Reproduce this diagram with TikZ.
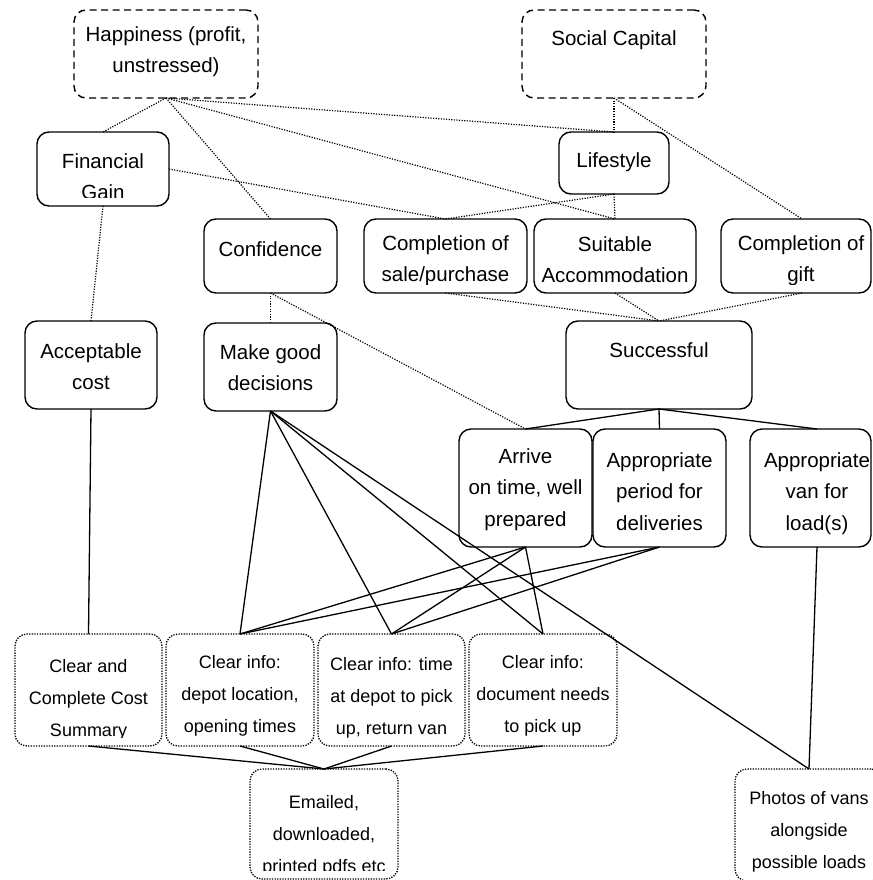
\documentclass[tikz,border=0pt]{standalone}
\usepackage{fontspec}
\setmainfont{Liberation Sans}
\newcommand\bigf{\fontsize{20.5}{31.5}\selectfont}
\newcommand\smallf{\fontsize{18}{32}\selectfont}
\tikzset{
  boxbase/.style={rounded corners=12pt, line width=1.4pt, inner sep=0pt, outer sep=0pt},
  solidbox/.style={boxbase, draw},
  dashbox/.style={boxbase, draw, dash pattern=on 7pt off 4.5pt},
  dotbox/.style={boxbase, draw, line width=1.3pt, dash pattern=on 1.3pt off 1.3pt},
  wh/.style 2 args={minimum width=#1pt, minimum height=#2pt},
  lbl/.style n args={4}{path picture={
    \clip ([yshift=9pt]path picture bounding box.south west) rectangle (path picture bounding box.north east);
    \node[anchor=north, inner sep=0pt, minimum width=0pt, minimum height=0pt, align=center, font=#3, xshift=#2pt]
      at ([yshift={(20-#1)*1pt}]path picture bounding box.north) {\rule{0pt}{20pt}#4};}},
  T/.style n args={3}{lbl={#1}{#2}{\bigf}{#3}},
  S/.style n args={3}{lbl={#1}{#2}{\smallf}{#3}},
  link/.style={line width=1.3pt},
  weak/.style={line width=1.2pt, dash pattern=on 1.2pt off 1.4pt},
}
\begin{document}
\begin{tikzpicture}[x=1pt,y=-1pt]
\fill[white] (0,0) rectangle (872,880);
\useasboundingbox (0,0) rectangle (872,880);
% top
\node[dashbox, wh={184}{88}, T={31.5}{0}{Happiness (profit,\\unstressed)}] (hap) at (166,54) {};
\node[dashbox, wh={184}{88}, T={36}{0}{Social Capital}] (soc) at (614,54) {};
\node[solidbox, wh={132}{74}, T={36}{0}{Financial\\Gain}] (fg) at (103,169) {};
\node[solidbox, wh={110}{62}, T={35}{0}{Lifestyle}] (life) at (614,163) {};
\node[solidbox, wh={133}{74}, T={37}{0}{Confidence}] (conf) at (270.5,256) {};
\node[solidbox, wh={163}{74}, T={31}{0}{Completion of\\sale/purchase}] (sale) at (445.5,256) {};
\node[solidbox, wh={162}{74}, T={32}{0}{Suitable\\Accommodation}] (acc) at (615,256) {};
\node[solidbox, wh={150}{74}, T={31}{5}{Completion of\\gift}] (gift) at (796,256) {};
\node[solidbox, wh={132}{88}, T={37}{0}{Acceptable\\cost}] (cost) at (91,365) {};
\node[solidbox, wh={133}{88}, T={36}{0}{Make good\\decisions}] (mgd) at (270.5,367) {};
\node[solidbox, wh={186}{88}, T={36}{0}{Successful}] (succ) at (659,365) {};
\node[solidbox, wh={133}{118}, T={34}{0}{Arrive\\on time, well\\prepared}] (arr) at (525.5,488) {};
\node[solidbox, wh={133}{118}, T={38}{0}{Appropriate\\period for\\deliveries}] (per) at (659.5,488) {};
\node[solidbox, wh={121}{118}, T={38}{6.5}{Appropriate\\van for\\load(s)}] (van) at (810.5,488) {};
% bottom
\node[dotbox, wh={147}{112}, S={38}{0}{Clear and\\Complete Cost\\Summary}] (ccs) at (88.5,690) {};
\node[dotbox, wh={148}{112}, S={34}{0}{Clear info:\\depot location,\\opening times}] (dep) at (240,690) {};
\node[dotbox, wh={147}{112}, S={36}{0}{Clear info: time\\at depot to pick\\up, return van}] (tim) at (391.5,690) {};
\node[dotbox, wh={148}{112}, S={34}{0}{Clear info:\\document needs\\to pick up}] (doc) at (543,690) {};
\node[dotbox, wh={148}{110}, S={39}{0}{Emailed,\\downloaded,\\printed pdfs etc}] (eml) at (324,824) {};
\node[dotbox, wh={148}{112}, S={35}{0}{Photos of vans\\alongside\\possible loads}] (pho) at (809,825) {};
% dotted links
\draw[weak] (hap.south) -- (fg.north);
\draw[weak] (hap.south) -- (conf.north);
\draw[weak] (hap.south) -- (life.north);
\draw[weak] (hap.south) -- (acc.north);
\draw[weak] (fg.east) -- (sale.north);
\draw[weak] (fg.south) -- (cost.north);
\draw[weak] (soc.south) -- (life.north);
\draw[weak] (soc.south) -- ([xshift=6pt]gift.north);
\draw[weak] (life.south) -- (sale.north);
\draw[weak] (life.south) -- (acc.north);
\draw[weak] (conf.south) -- (mgd.north);
\draw[weak] (conf.south) -- (arr.north);
\draw[weak] (sale.south) -- (succ.north);
\draw[weak] (acc.south) -- (succ.north);
\draw[weak] ([xshift=6pt]gift.south) -- (succ.north);
% solid links
\draw[link] (succ.south) -- (arr.north);
\draw[link] (succ.south) -- (per.north);
\draw[link] (succ.south) -- ([xshift=6.5pt]van.north);
\draw[link] (cost.south) -- (ccs.north);
\draw[link] (mgd.south) -- (dep.north);
\draw[link] (mgd.south) -- (tim.north);
\draw[link] (mgd.south) -- (doc.north);
\draw[link] (mgd.south) -- (pho.north);
\draw[link] (arr.south) -- (dep.north);
\draw[link] (arr.south) -- (tim.north);
\draw[link] (arr.south) -- (doc.north);
\draw[link] (per.south) -- (dep.north);
\draw[link] (per.south) -- (tim.north);
\draw[link] ([xshift=6.5pt]van.south) -- (pho.north);
\draw[link] (ccs.south) -- (eml.north);
\draw[link] (dep.south) -- (eml.north);
\draw[link] (tim.south) -- (eml.north);
\draw[link] (doc.south) -- (eml.north);
\end{tikzpicture}
\end{document}
